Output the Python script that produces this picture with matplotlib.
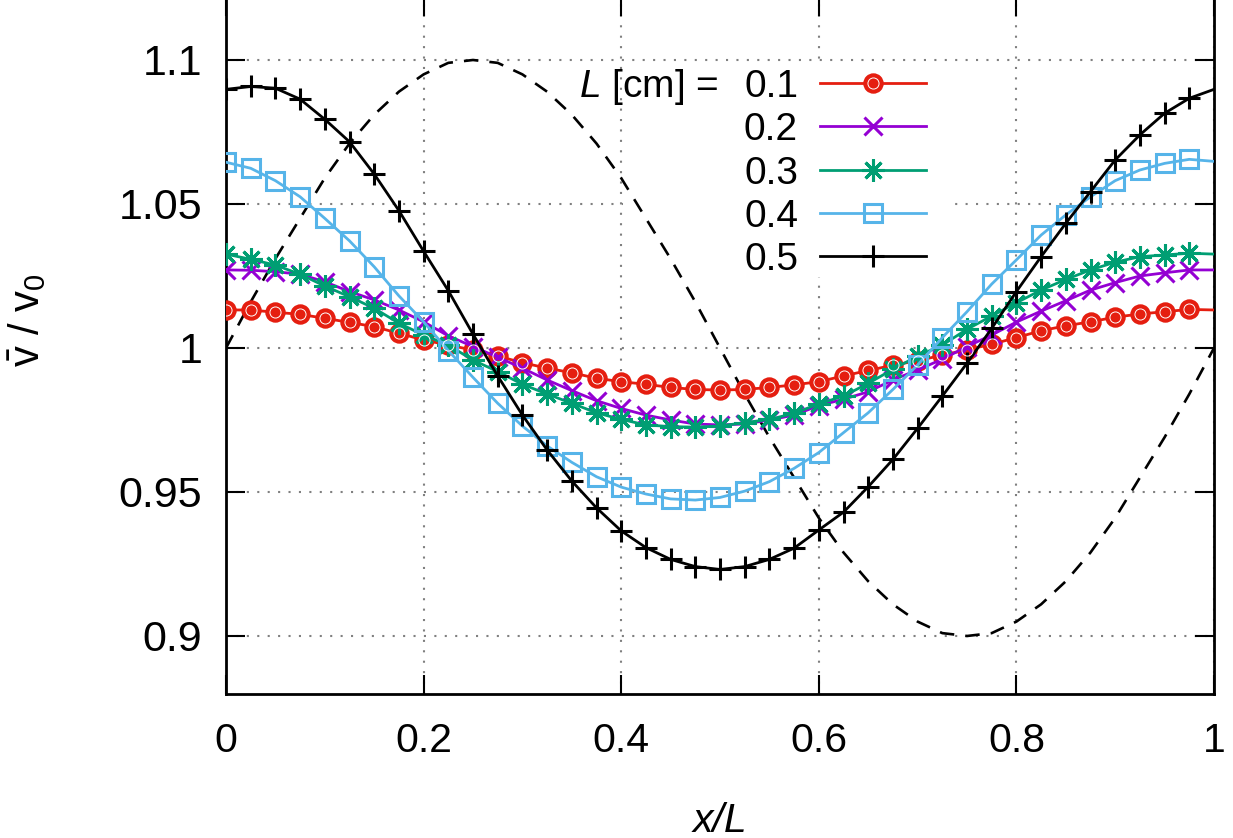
import numpy as np
import matplotlib
matplotlib.use("Agg")
import matplotlib.pyplot as plt
from matplotlib.patches import Rectangle

plt.rcParams['font.family'] = ['Liberation Sans', 'DejaVu Sans']
plt.rcParams['mathtext.fontset'] = 'custom'
plt.rcParams['mathtext.rm'] = 'Liberation Sans'
plt.rcParams['mathtext.it'] = 'Liberation Sans:italic'

# ---- data ----
x_pos = np.arange(41) * 0.025  # x/L sample positions 0 ... 1

labels = ['0.1', '0.2', '0.3', '0.4', '0.5']

v_01 = [1.0132, 1.0132, 1.0124, 1.0117, 1.0103, 1.0089, 1.0074, 1.0051, 1.0028, 1.0010,
        0.9993, 0.9972, 0.9949, 0.9930, 0.9914, 0.9895, 0.9883, 0.9874, 0.9863, 0.9856,
        0.9854, 0.9856, 0.9863, 0.9872, 0.9883, 0.9903, 0.9922, 0.9940, 0.9956, 0.9975,
        0.9994, 1.0013, 1.0036, 1.0060, 1.0077, 1.0091, 1.0107, 1.0118, 1.0126, 1.0134,
        1.0132]
v_02 = [1.0271, 1.0270, 1.0265, 1.0256, 1.0230, 1.0196, 1.0167, 1.0132, 1.0091, 1.0042,
        1.0005, 0.9968, 0.9930, 0.9889, 0.9852, 0.9817, 0.9790, 0.9767, 0.9750, 0.9736,
        0.9733, 0.9736, 0.9750, 0.9767, 0.9800, 0.9822, 0.9848, 0.9889, 0.9924, 0.9961,
        1.0005, 1.0045, 1.0090, 1.0128, 1.0164, 1.0201, 1.0227, 1.0250, 1.0261, 1.0271,
        1.0271]
v_03 = [1.0326, 1.0308, 1.0288, 1.0256, 1.0215, 1.0178, 1.0138, 1.0086, 1.0045, 1.0010,
        0.9958, 0.9918, 0.9874, 0.9840, 0.9808, 0.9775, 0.9752, 0.9733, 0.9727, 0.9725,
        0.9729, 0.9741, 0.9752, 0.9773, 0.9806, 0.9833, 0.9877, 0.9926, 0.9972, 1.0010,
        1.0065, 1.0111, 1.0157, 1.0201, 1.0238, 1.0271, 1.0298, 1.0317, 1.0323, 1.0329,
        1.0326]
v_04 = [1.0645, 1.0624, 1.0581, 1.0525, 1.0450, 1.0372, 1.0282, 1.0181, 1.0091, 0.9991,
        0.9898, 0.9808, 0.9729, 0.9660, 0.9603, 0.9553, 0.9517, 0.9493, 0.9476, 0.9472,
        0.9481, 0.9503, 0.9536, 0.9582, 0.9637, 0.9706, 0.9775, 0.9856, 0.9941, 1.0036,
        1.0126, 1.0222, 1.0306, 1.0392, 1.0462, 1.0525, 1.0581, 1.0618, 1.0641, 1.0655,
        1.0648]
v_05 = [1.0898, 1.0908, 1.0902, 1.0864, 1.0794, 1.0716, 1.0604, 1.0477, 1.0336, 1.0199,
        1.0048, 0.9903, 0.9767, 0.9646, 0.9538, 0.9445, 0.9365, 0.9307, 0.9266, 0.9241,
        0.9231, 0.9241, 0.9266, 0.9305, 0.9368, 0.9430, 0.9518, 0.9613, 0.9721, 0.9833,
        0.9947, 1.0068, 1.0196, 1.0317, 1.0433, 1.0543, 1.0653, 1.0740, 1.0815, 1.0867,
        1.0898]
v_ref = [1.000, 1.016, 1.031, 1.045, 1.059, 1.071, 1.081, 1.089, 1.095, 1.099,
         1.100, 1.099, 1.095, 1.089, 1.081, 1.071, 1.059, 1.045, 1.031, 1.016,
         1.000, 0.984, 0.969, 0.955, 0.941, 0.929, 0.919, 0.911, 0.905, 0.901,
         0.900, 0.901, 0.905, 0.911, 0.919, 0.929, 0.941, 0.955, 0.969, 0.984,
         1.000]

xticks = [0, 0.2, 0.4, 0.6, 0.8, 1.0]
xticklabels = ['0', '0.2', '0.4', '0.6', '0.8', '1']
yticks = [0.9, 0.95, 1.0, 1.05, 1.1]
yticklabels = ['0.9', '0.95', '1', '1.05', '1.1']

# ---- figure ----
W, H = 1233, 838
fig = plt.figure(figsize=(W / 100, H / 100), dpi=100)
L, R, B, T = 226, 1214, 694, -3.0
ax = fig.add_axes([L / W, 1 - B / H, (R - L) / W, (B - T) / H])
ax.set_xlim(0, 1)
ax.set_ylim(0.87986, 1.12187)

FS = 28
ax.set_xticks(xticks)
ax.set_xticklabels(xticklabels)
ax.set_yticks(yticks)
ax.set_yticklabels(yticklabels)
ax.tick_params(direction='in', length=13.5, width=1.5,
               top=True, right=True)
ax.tick_params(axis='x', pad=20, labelsize=29.5)
ax.tick_params(axis='y', pad=17, labelsize=31)
for s in ax.spines.values():
    s.set_linewidth(2.0)

ax.set_axisbelow(True)
ax.grid(True, color='#808080', linewidth=1.5, linestyle=(0, (1, 4.0)))

# opaque key background hides grid behind the legend
ax.add_patch(Rectangle((0.4015, 1.0245), 0.328, 0.0745, facecolor='white',
                       edgecolor='none', zorder=0.8))

# reference dashed sine
ax.plot(x_pos, v_ref, color='black', lw=1.9, ls=(0, (5.5, 4.2)), zorder=2)

red = '#e51e10'
purple = '#9400d3'
green = '#009e73'
blue = '#56b4e9'
black = '#000000'

star = (8, 2, 0)
mk = slice(0, 40)
styles = [
    dict(color=red, marker='o', ms=13.5, mfc=red, mec=red, mew=1.2),
    dict(color=purple, marker='x', ms=13.5, mew=2.2),
    dict(color=green, marker=star, ms=16, mew=2.2),
    dict(color=blue, marker='s', ms=12.5, mfc='none', mec=blue, mew=2.2),
    dict(color=black, marker='+', ms=16, mew=2.2),
]
series = [v_01, v_02, v_03, v_04, v_05]
for vals, st in zip(series, styles):
    ax.plot(x_pos, vals, lw=2.0, markevery=mk, zorder=3, **st)
# white inner ring of gnuplot's filled circles
ax.plot(x_pos[:40], v_01[:40], ls='none', marker='o', ms=8, mfc='none',
        mec='white', mew=0.7, zorder=3.1)

# ---- key (drawn manually, gnuplot style) ----
def ax_xy(px, py):
    return (px - L) / (R - L), (B - py) / (B - T)

row_y = [83, 126, 169.5, 212.5, 255.5]
for i, (lab, st) in enumerate(zip(labels, styles)):
    tx, ty = ax_xy(798, row_y[i] + 14)
    ax.text(tx, ty, lab, transform=ax.transAxes, ha='right', va='baseline',
            fontsize=FS, zorder=5)
    x0, yy = ax_xy(820, row_y[i])
    x1, _ = ax_xy(926, row_y[i])
    xm, _ = ax_xy(873, row_y[i])
    ax.plot([x0, x1], [yy, yy], transform=ax.transAxes, color=st['color'],
            lw=2.0, zorder=5, clip_on=False)
    ax.plot([xm], [yy], transform=ax.transAxes, ls='none', zorder=5,
            clip_on=False, **{k: v for k, v in st.items() if k != 'color'},
            color=st['color'])
    if i == 0:
        ax.plot([xm], [yy], transform=ax.transAxes, ls='none', marker='o',
                ms=8, mfc='none', mec='white', mew=0.7, zorder=5.1)
tx, ty = ax_xy(718, row_y[0] + 14)
ax.text(tx, ty, r'$\mathit{L}$ [cm] =', transform=ax.transAxes, ha='right',
        va='baseline', fontsize=FS, zorder=5)

# ---- axis labels ----
fig.text(720 / W, 1 - 832 / H, 'x/L', style='italic', fontsize=29.5,
         ha='center', va='baseline')
fig.text(27 / W, 1 - 320 / H, r'$\bar{\mathrm{v}}$ / v$_0$', rotation=90,
         fontsize=30, ha='center', va='center')

fig.savefig('out.png', dpi=100)
